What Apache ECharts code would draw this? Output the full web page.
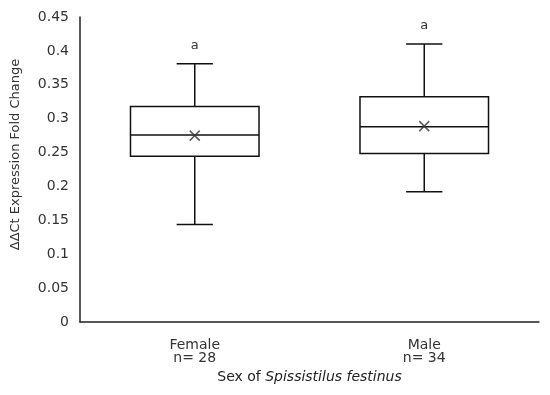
<!DOCTYPE html>
<html>
<head>
<meta charset="utf-8">
<script src="https://cdn.jsdelivr.net/npm/echarts@6/dist/echarts.min.js"></script>
<style>
html,body{margin:0;padding:0;background:#fff;}
#chart{width:550px;height:395px;}
</style>
</head>
<body>
<div id="chart"></div>
<script>
const categories = ['Female', 'Male'];
const sampleSizes = ['n= 28', 'n= 34'];
const minValues = [0.144, 0.192];
const q1Values = [0.2445, 0.2485];
const medianValues = [0.276, 0.288];
const q3Values = [0.318, 0.3325];
const maxValues = [0.381, 0.410];
const meanValues = [0.275, 0.289];
const groupLetters = ['a', 'a'];

const FONT = '"DejaVu Sans", sans-serif';
const boxData = categories.map((c, i) => [i, minValues[i], q1Values[i], medianValues[i], q3Values[i], maxValues[i]]);
const meanData = categories.map((c, i) => [i, meanValues[i]]);

const chart = echarts.init(document.getElementById('chart'), null, {renderer: 'canvas'});
chart.setOption({
  animation: false,
  backgroundColor: '#fff',
  grid: {left: 80, right: 11, top: 17, bottom: 73, containLabel: false},
  xAxis: {
    type: 'category',
    data: categories,
    axisLine: {lineStyle: {color: '#222', width: 1.5}},
    axisTick: {show: false},
    axisLabel: {
      margin: 17,
      color: '#333',
      fontFamily: FONT,
      fontSize: 14,
      lineHeight: 13,
      formatter: (v, idx) => v + '\n' + sampleSizes[idx]
    },
    name: '{n|Sex of }{i|Spissistilus festinus}',
    nameLocation: 'middle',
    nameGap: 48,
    nameTextStyle: {
      rich: {
        n: {fontFamily: FONT, fontSize: 14, color: '#222'},
        i: {fontFamily: FONT, fontSize: 14, fontStyle: 'italic', color: '#222'}
      }
    }
  },
  yAxis: {
    type: 'value',
    min: 0,
    max: 0.45,
    interval: 0.05,
    axisLine: {show: true, lineStyle: {color: '#222', width: 1.5}},
    axisTick: {show: false},
    splitLine: {show: false},
    axisLabel: {
      margin: 11,
      color: '#333',
      fontFamily: FONT,
      fontSize: 14,
      formatter: v => String(parseFloat(v.toFixed(2)))
    },
    name: 'ΔΔCt Expression Fold Change',
    nameLocation: 'middle',
    nameGap: 58,
    nameTextStyle: {fontFamily: FONT, fontSize: 13, color: '#333', padding: [0, 0, 0, 30]}
  },
  series: [
    {
      type: 'custom',
      data: boxData,
      encode: {x: 0, y: [1, 2, 3, 4, 5]},
      renderItem: function (params, api) {
        const i = api.value(0);
        const band = api.size([1, 0])[0];
        const bw = band * 0.56;
        const cw = band * 0.158;
        const pMin = api.coord([i, api.value(1)]);
        const pQ1 = api.coord([i, api.value(2)]);
        const pMed = api.coord([i, api.value(3)]);
        const pQ3 = api.coord([i, api.value(4)]);
        const pMax = api.coord([i, api.value(5)]);
        const x = pMed[0];
        const ls = {stroke: '#111', lineWidth: 1.5};
        return {
          type: 'group',
          children: [
            {type: 'line', shape: {x1: x, y1: pQ3[1], x2: x, y2: pMax[1]}, style: ls},
            {type: 'line', shape: {x1: x, y1: pQ1[1], x2: x, y2: pMin[1]}, style: ls},
            {type: 'line', shape: {x1: x - cw / 2, y1: pMax[1], x2: x + cw / 2, y2: pMax[1]}, style: ls},
            {type: 'line', shape: {x1: x - cw / 2, y1: pMin[1], x2: x + cw / 2, y2: pMin[1]}, style: ls},
            {type: 'rect', shape: {x: x - bw / 2, y: pQ3[1], width: bw, height: pQ1[1] - pQ3[1]}, style: {fill: '#fff', stroke: '#111', lineWidth: 1.5}},
            {type: 'line', shape: {x1: x - bw / 2, y1: pMed[1], x2: x + bw / 2, y2: pMed[1]}, style: ls},
            {type: 'text', style: {text: groupLetters[i], x: x, y: pMax[1] - 18, align: 'center', verticalAlign: 'middle', font: '13px ' + FONT, fill: '#333'}}
          ]
        };
      }
    },
    {
      type: 'scatter',
      data: meanData,
      z: 5,
      symbol: 'path://M0,0L10,10M10,0L0,10',
      symbolSize: 10,
      itemStyle: {color: 'none', borderColor: '#333', borderWidth: 1.5}
    }
  ]
});
</script>
</body>
</html>
